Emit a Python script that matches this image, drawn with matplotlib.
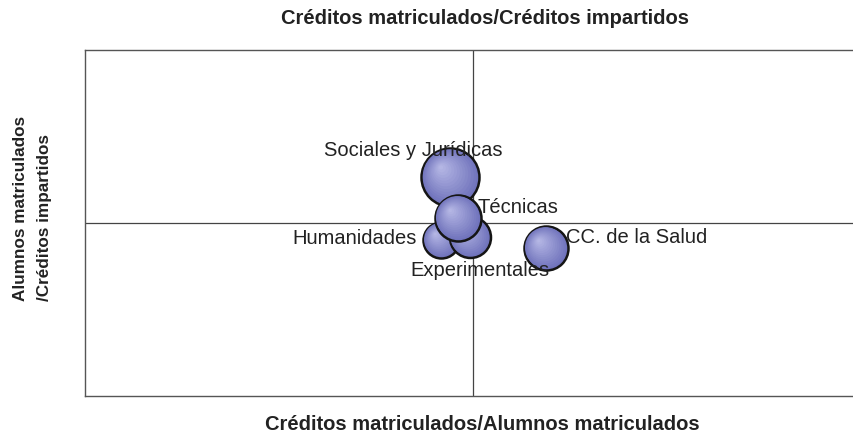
import matplotlib
matplotlib.use("Agg")
import matplotlib.pyplot as plt
import numpy as np
from matplotlib.colors import to_rgb

plt.rcParams['font.family'] = ['Liberation Sans', 'DejaVu Sans']

# ramas de conocimiento (orden de dibujo: la última queda encima)
ramas = ["Sociales y Jurídicas", "Humanidades", "Experimentales", "Técnicas", "CC. de la Salud"]
# créditos matriculados / alumnos matriculados (relativo, 1 = media)
x_val = [0.942, 0.918, 0.992, 0.961, 1.188]
# alumnos matriculados / créditos impartidos (relativo, 1 = media)
y_val = [1.266, 0.902, 0.919, 1.029, 0.855]
# tamaño de la burbuja
peso = [841, 324, 420, 529, 484]

# desplazamiento de cada etiqueta respecto a su burbuja (puntos) y alineación
offsets = [(-26.6, 19.4, 'center'), (-17.3, 1.4, 'right'), (7.2, -23.8, 'center'),
           (14.4, 7.2, 'left'), (14.4, 7.9, 'left')]

fig = plt.figure(figsize=(8.54, 4.34), dpi=100)
ax = fig.add_axes([85 / 854, 38 / 434, 769 / 854, 346 / 434])
ax.set_xlim(0, 769 / 388)
ax.set_ylim(0, 2)

ax.axvline(1, color='#444444', lw=0.9, zorder=1)
ax.axhline(1, color='#444444', lw=0.9, zorder=1)

base = np.array(to_rgb('#7073bc'))
luz = np.array(to_rgb('#b4b6e4'))
k = (0.72 * 2) ** 2
z = 3
for i in range(len(ramas)):
    s0 = peso[i] * k
    r_pt = np.sqrt(peso[i]) * 0.72
    # contorno y relleno
    ax.scatter(x_val[i], y_val[i], s=s0, color=base, edgecolors='#151515',
               linewidths=1.8, zorder=z)
    z += 1
    # degradado radial hacia la esquina superior izquierda
    n = 14
    for j in range(1, n):
        f = 1 - j / n
        c = base + (luz - base) * (j / (n - 1))
        off = (1 - f) * r_pt * 0.35
        ax.scatter(x_val[i], y_val[i], s=s0 * f ** 2, color=c, edgecolors='none',
                   zorder=z, transform=ax.transData +
                   matplotlib.transforms.ScaledTranslation(-off / 72, off / 72,
                                                           fig.dpi_scale_trans))
        z += 1
for i in range(len(ramas)):
    dx, dy, ha = offsets[i]
    ax.annotate(ramas[i], (x_val[i], y_val[i]), xytext=(dx, dy),
                textcoords='offset points', ha=ha, va='center',
                fontsize=14.5, color='#222222', zorder=200)

for s in ['left', 'top', 'bottom']:
    ax.spines[s].set_color('#555555')
    ax.spines[s].set_linewidth(1.0)
ax.spines['right'].set_visible(False)
ax.set_xticks([])
ax.set_yticks([])

fig.text(485 / 854, 1 - 18 / 434, "Créditos matriculados/Créditos impartidos",
         ha='center', va='center', fontsize=14.5, fontweight='bold', color='#222222')
fig.text(482 / 854, 1 - 425 / 434, "Créditos matriculados/Alumnos matriculados",
         ha='center', va='center', fontsize=14.5, fontweight='bold', color='#222222')
fig.text(33 / 854, 1 - 208 / 434, "Alumnos matriculados\n/Créditos impartidos",
         ha='center', va='center', rotation=90, fontsize=12.3, fontweight='bold',
         color='#222222', multialignment='left', linespacing=1.75)

fig.savefig("out.png", dpi=100)
